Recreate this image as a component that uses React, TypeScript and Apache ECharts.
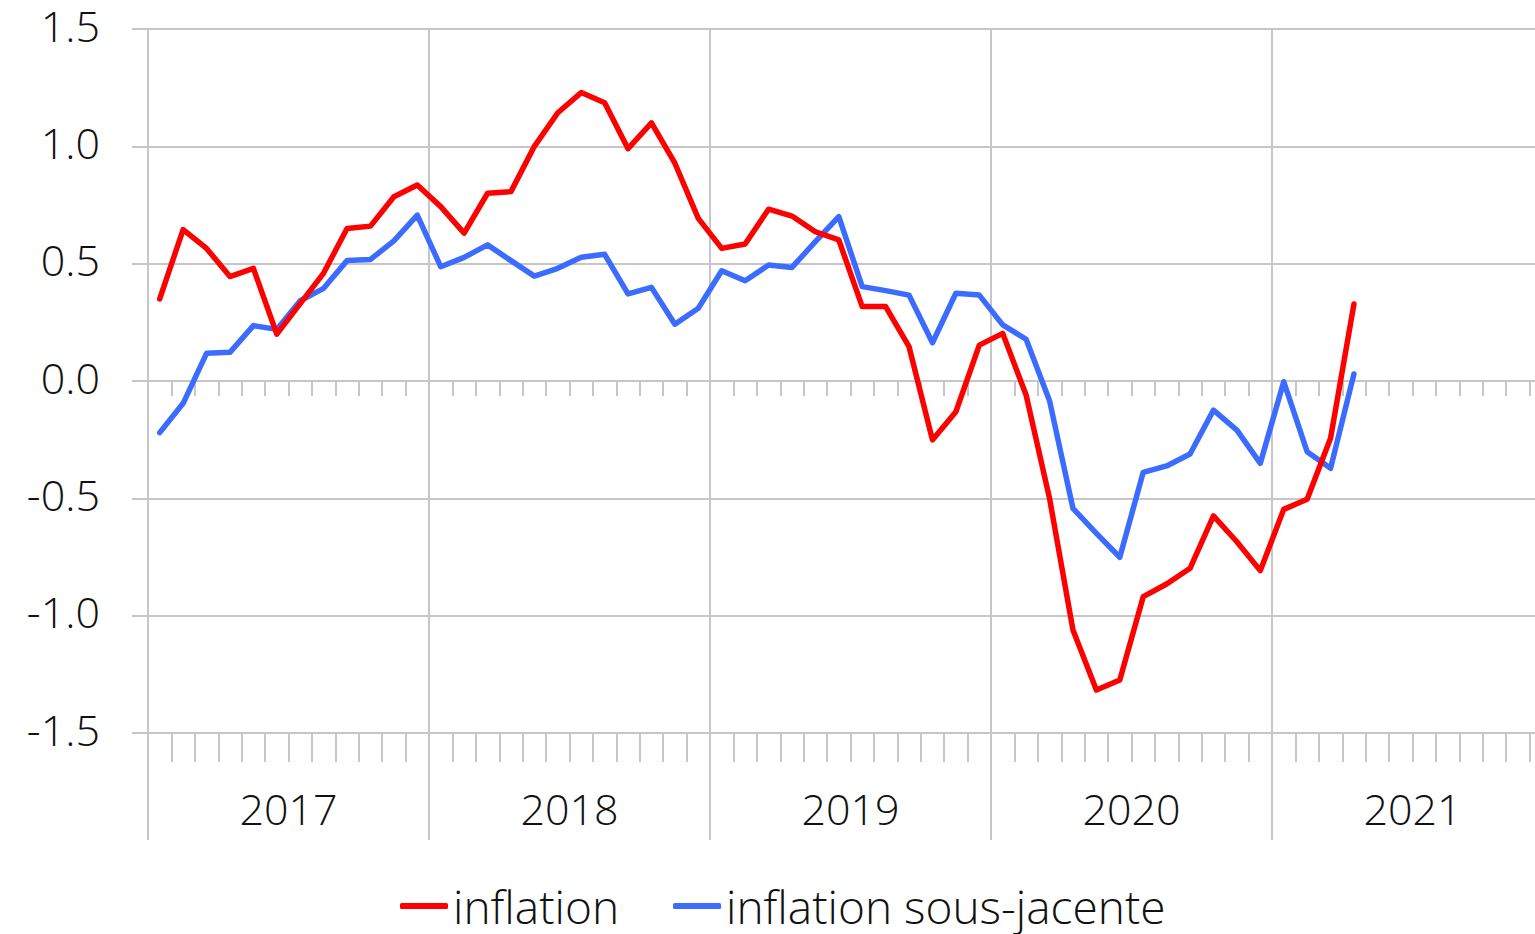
import React, { useEffect, useRef } from "react";
import * as echarts from "echarts";

const years = ["2017", "2018", "2019", "2020", "2021"];
const monthCodes = ["01", "02", "03", "04", "05", "06", "07", "08", "09", "10", "11", "12"];
const months = years.flatMap((y) => monthCodes.map((m) => `${y}-${m}`));

const inflation = [
  0.35, 0.645, 0.565, 0.445, 0.48, 0.2, 0.33, 0.46, 0.65, 0.66, 0.785, 0.835,
  0.743, 0.63, 0.8, 0.807, 1.0, 1.143, 1.229, 1.186, 0.99, 1.1, 0.928, 0.693,
  0.565, 0.584, 0.732, 0.703, 0.636, 0.601, 0.317, 0.317, 0.146, -0.251, -0.131, 0.153,
  0.203, -0.06, -0.5, -1.061, -1.317, -1.274, -0.919, -0.865, -0.798, -0.575, -0.685, -0.808,
  -0.547, -0.504, -0.244, 0.328,
];

const inflationSousJacente = [
  -0.22, -0.095, 0.118, 0.122, 0.236, 0.22, 0.342, 0.395, 0.513, 0.518, 0.597, 0.707,
  0.487, 0.527, 0.58, 0.513, 0.447, 0.48, 0.527, 0.54, 0.371, 0.399, 0.242, 0.31,
  0.47, 0.427, 0.494, 0.484, 0.594, 0.7, 0.402, 0.385, 0.366, 0.163, 0.374, 0.366,
  0.239, 0.178, -0.084, -0.543, -0.649, -0.751, -0.389, -0.362, -0.311, -0.124, -0.209, -0.351,
  -0.003, -0.301, -0.372, 0.03,
];

const seriesNames = ["inflation", "inflation sous-jacente"];
const seriesColors = ["#ff0000", "#3b6cff"];

const FONT = "Open Sans";
const GRID_COLOR = "#c6c6c6";
const TEXT_COLOR = "#111111";

export default function App() {
  const ref = useRef<HTMLDivElement>(null);

  useEffect(() => {
    document.body.style.margin = "0";
    document.body.style.overflow = "hidden";
    if (!ref.current) return;
    const chart = echarts.init(ref.current, null, { renderer: "svg" });
    const lineCommon = { color: GRID_COLOR, width: 2 };
    chart.setOption({
      animation: false,
      backgroundColor: "#ffffff",
      textStyle: { fontFamily: FONT },
      grid: { left: 148, top: 29, bottom: 201, right: 0, containLabel: false },
      legend: {
        data: seriesNames,
        left: 395,
        top: 877,
        icon: "roundRect",
        itemWidth: 48,
        itemHeight: 6,
        itemGap: 54,
        textStyle: {
          fontFamily: FONT,
          fontSize: 46,
          fontWeight: 300,
          lineHeight: 48,
          color: TEXT_COLOR,
        },
      },
      xAxis: [
        {
          type: "category",
          data: months,
          boundaryGap: true,
          position: "bottom",
          axisLine: { show: true, onZero: true, lineStyle: lineCommon },
          axisTick: { show: true, interval: 0, length: 15, lineStyle: lineCommon },
          axisLabel: { show: false },
          splitLine: { show: false },
        },
        {
          type: "category",
          data: months,
          boundaryGap: true,
          position: "bottom",
          axisLine: { show: true, onZero: false, lineStyle: lineCommon },
          axisTick: { show: true, interval: 0, length: 29, lineStyle: lineCommon },
          axisLabel: { show: false },
          splitLine: { show: false },
        },
        {
          type: "category",
          data: years,
          boundaryGap: true,
          position: "bottom",
          axisLine: { show: false, onZero: false },
          axisTick: { show: true, interval: 0, length: 107, lineStyle: lineCommon },
          axisLabel: {
            show: true,
            interval: 0,
            margin: 54,
            fontFamily: FONT,
            fontSize: 43,
            fontWeight: 300,
            color: TEXT_COLOR,
          },
          splitLine: { show: true, interval: 0, lineStyle: lineCommon },
        },
      ],
      yAxis: {
        type: "value",
        min: -1.5,
        max: 1.5,
        interval: 0.5,
        axisLine: { show: true, lineStyle: lineCommon },
        axisTick: { show: true, length: 16, lineStyle: lineCommon },
        axisLabel: {
          margin: 48,
          fontFamily: FONT,
          fontSize: 43,
          fontWeight: 300,
          color: TEXT_COLOR,
          verticalAlign: "bottom",
          lineHeight: 8,
          formatter: (v: number) => v.toFixed(1),
        },
        splitLine: { show: true, lineStyle: lineCommon },
      },
      series: [
        {
          name: seriesNames[0],
          type: "line",
          xAxisIndex: 0,
          data: inflation,
          symbol: "none",
          color: seriesColors[0],
          lineStyle: { color: seriesColors[0], width: 5.5, cap: "round", join: "round" },
          z: 3,
        },
        {
          name: seriesNames[1],
          type: "line",
          xAxisIndex: 0,
          data: inflationSousJacente,
          symbol: "none",
          color: seriesColors[1],
          lineStyle: { color: seriesColors[1], width: 5.5, cap: "round", join: "round" },
          z: 2,
        },
      ],
    });
    return () => chart.dispose();
  }, []);

  return <div ref={ref} style={{ width: 1553, height: 934 }} />;
}
